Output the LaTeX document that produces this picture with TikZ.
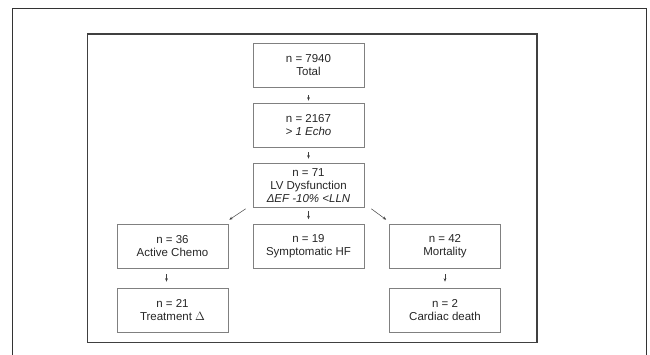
\documentclass[tikz,border=0pt]{standalone}
\usepackage{fontspec}
\setmainfont{Liberation Sans}
\usetikzlibrary{arrows.meta}
\begin{document}
\begin{tikzpicture}[x=1pt,y=-1pt,
        box/.style={draw=black!50,line width=0.6pt,minimum width=111pt,minimum height=44pt,inner sep=0pt,align=center,font=\fontsize{11.5}{13}\selectfont,text=black!85},
        arr/.style={draw=black!75,line width=0.5pt,-{Stealth[length=3.5pt,width=2.8pt]}}]
        \useasboundingbox (0,0) rectangle (650,354);
        \draw[black!80,line width=0.8pt] (12.5,360) -- (12.5,8) -- (646,8) -- (646,360);
        \draw[black!75,line width=1.3pt] (87.5,34) rectangle (537,342.5);
        \node[box] (total) at (308.5,65) {n = 7940\\Total};
        \node[box] (echo) at (308.5,125.5) {n = 2167\\\textit{> 1 Echo}};
        \node[box] (lv) at (308.5,185.5) {n = 71\\LV Dysfunction\\\textit{ΔEF -10\% <LLN}};
        \node[box] (chemo) at (172.5,246) {n = 36\\Active Chemo};
        \node[box] (hf) at (308.5,246) {n = 19\\Symptomatic HF};
        \node[box] (mort) at (445,246) {n = 42\\Mortality};
        \node[box] (treat) at (172.5,310) {n = 21\\Treatment $\Delta$};
        \node[box] (death) at (445,310) {n = 2\\Cardiac death};
        \draw[arr,shorten <=8pt,shorten >=2.5pt] (total) -- (echo);
        \draw[arr,shorten <=4.5pt,shorten >=4.5pt] (echo) -- (lv);
        \draw[arr,shorten <=3pt,shorten >=4.5pt] (lv) -- (hf);
        \draw[arr] ([xshift=-7pt,yshift=-1pt]lv.south west) -- ([xshift=1pt,yshift=4pt]chemo.north east);
        \draw[arr] ([xshift=7pt,yshift=-1pt]lv.south east) -- ([xshift=-3pt,yshift=4pt]mort.north west);
        \draw[arr,shorten <=6pt,shorten >=6pt] ([xshift=-6pt]chemo.south) -- ([xshift=-6pt]treat.north);
        \draw[arr,shorten <=6pt,shorten >=6pt] (mort) -- (death);
\end{tikzpicture}
\end{document}
